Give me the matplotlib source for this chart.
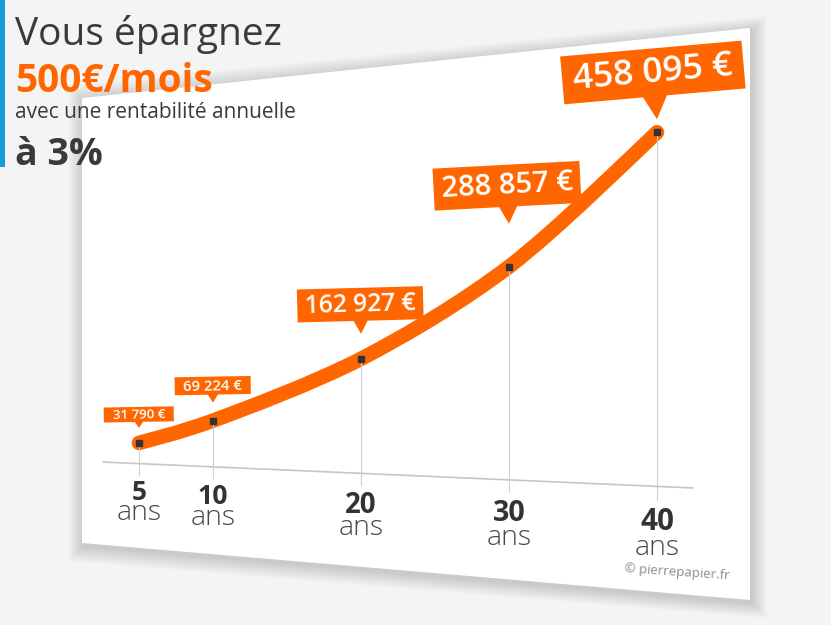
import numpy as np
import matplotlib.pyplot as plt
from matplotlib.patches import Polygon, PathPatch
from matplotlib.path import Path
from matplotlib.transforms import Transform

# données
years = [5, 10, 20, 30, 40]
totals = [31790, 69224, 162927, 288857, 458095]
total_labels = ['31 790 €', '69 224 €', '162 927 €', '288 857 €', '458 095 €']
year_labels = ['5', '10', '20', '30', '40']

ORANGE = '#ff6600'
DARK = '#3a3a3a'
FONT = 'Open Sans'


class Tilt(Transform):
    # (année, montant) -> pixels de la carte vue en biais
    input_dims = 2
    output_dims = 2

    def transform_non_affine(self, xy):
        xy = np.asarray(xy, dtype=float).reshape(-1, 2)
        yr, val = xy[:, 0], xy[:, 1]
        px = 139 + 14.8 * (yr - 5)
        py = 463.6 + 0.044 * (px - 139) - (0.000633 + 0.0000035 * yr) * val
        return np.column_stack([px, py])


fig = plt.figure(figsize=(8.31, 6.25), dpi=100)
fig.patch.set_facecolor('#f4f4f4')
ax = fig.add_axes([0, 0, 1, 1])
ax.set_xlim(0, 831)
ax.set_ylim(625, 0)
ax.axis('off')

tilt = Tilt()
proj = tilt + ax.transData

# carte blanche + ombre douce
card = np.array([(82, 98), (750, 28), (750, 600), (82, 543)], dtype=float)
mid = card.mean(axis=0)
for i in range(14, 0, -1):
    grown = card + np.sign(card - mid) * i * 1.1 + [1.5, 3]
    ax.add_patch(Polygon(grown, closed=True, color='black', alpha=0.012, lw=0))
ax.add_patch(Polygon(card, closed=True, color='white', lw=0))

# bandeau bleu
ax.add_patch(Polygon([(0, 0), (5, 0), (5, 167), (0, 167)], closed=True,
                     color='#1a9ad6', lw=0))

# axe et lignes verticales
ax.plot([2.6, 42.4], [0, 0], color='#c6c6c6', lw=1.2, transform=proj)
for y, v in zip(years, totals):
    ax.plot([y, y], [v, -17000], color='#d0d0d0', lw=0.8, transform=proj)

# courbe lissée (Catmull-Rom -> Bézier)
P = np.column_stack([years, totals]).astype(float)
ext = np.vstack([P[0], P, P[-1]])
verts = [P[0]]
codes = [Path.MOVETO]
for i in range(len(P) - 1):
    c1 = P[i] + (ext[i + 2] - ext[i]) / 6
    c2 = P[i + 1] - (ext[i + 3] - ext[i + 1]) / 6
    verts += [c1, c2, P[i + 1]]
    codes += [Path.CURVE4] * 3
ax.add_patch(PathPatch(Path(verts, codes), fill=False, edgecolor=ORANGE, lw=10.5,
                       capstyle='round', joinstyle='round', transform=proj))
ax.plot(years, totals, 's', ms=4.2, color='#333333', transform=proj)

# bulles
gaps = [15, 18, 25, 43, 13]
box_w = [70, 76, 126, 147, 182]
box_h = [15, 18, 33, 42, 48]
ptr_w = [8, 10, 14, 18, 24]
ptr_l = [6, 8, 13, 17, 23]
angles = [1, 1, 1.5, 3, 5]
sizes = [9.5, 10.8, 17.7, 21, 25.5]

for k, (y, v) in enumerate(zip(years, totals)):
    px, py = tilt.transform([[y, v]])[0]
    tip = np.array([px, py - gaps[k]])
    w, h, pw, pl = box_w[k], box_h[k], ptr_w[k], ptr_l[k]
    th = np.radians(angles[k])
    rot = np.array([[np.cos(th), np.sin(th)], [-np.sin(th), np.cos(th)]])
    local = np.array([(-w / 2, -h / 2), (w / 2, -h / 2), (w / 2, h / 2),
                      (pw / 2, h / 2), (0, h / 2 + pl), (-pw / 2, h / 2),
                      (-w / 2, h / 2)])
    center = tip - rot @ np.array([0, h / 2 + pl])
    shape = (rot @ local.T).T + center
    ax.add_patch(Polygon(shape, closed=True, color=ORANGE, lw=0))
    ax.text(center[0], center[1] + 0.5, total_labels[k], color='white',
            fontsize=sizes[k], family=FONT, weight='semibold',
            ha='center', va='center', rotation=angles[k], rotation_mode='anchor')

# étiquettes des années
for y, lab in zip(years, year_labels):
    bx, by = tilt.transform([[y, 0]])[0]
    ax.text(bx, by + 35.5 + 0.2 * y, lab, color='#333333', family=FONT,
            weight='bold', fontsize=18.5 + 0.07 * y, ha='center', va='baseline')
    ax.text(bx, by + 55 + 0.35 * y, 'ans', color='#4a4a4a', family=FONT,
            weight='light', fontsize=20.5, ha='center', va='baseline')

ax.text(677, 576, '© pierrepapier.fr', color='#8c8c8c', family=FONT,
        fontsize=9.5, ha='center', va='baseline', rotation=-4,
        rotation_mode='anchor')

# titre
ax.text(15, 45, 'Vous épargnez', color=DARK, family=FONT, fontsize=28,
        ha='left', va='baseline')
ax.text(15, 92, '500€/mois', color=ORANGE, family=FONT, weight='bold',
        fontsize=28, ha='left', va='baseline')
ax.text(15, 118, 'avec une rentabilité annuelle', color=DARK, family=FONT,
        fontsize=15, ha='left', va='baseline')
ax.text(15, 165, 'à 3%', color=DARK, family=FONT, weight='bold',
        fontsize=27, ha='left', va='baseline')

fig.savefig('out.png', dpi=100, facecolor=fig.get_facecolor())
